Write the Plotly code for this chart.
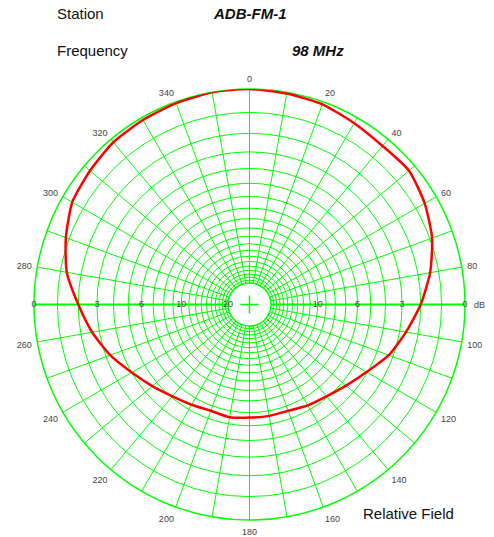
import plotly.graph_objects as go

# ---- data ----
theta_deg = [0, 10, 20, 30, 40, 50, 60, 70, 80, 90, 100, 110, 120, 130, 140, 150, 160, 170,
             180, 190, 200, 210, 220, 230, 240, 250, 260, 270, 280, 290, 300, 310, 320, 330, 340, 350, 360]
atten_db = [0.0, 0.05, 0.1, 0.25, 0.35, 0.3, 0.55, 0.9, 1.4, 2.0, 2.65, 3.25, 4.05, 4.65, 5.1, 5.35, 5.6, 5.6,
            5.6, 5.5, 5.6, 5.4, 5.1, 4.6, 4.0, 3.25, 2.6, 2.0, 1.3, 0.85, 0.45, 0.3, 0.15, 0.1, 0.05, 0.0, 0.0]
grid_db = list(range(0, 21))          # circles every 1 dB
label_db_left = [0, 3, 6, 10, 20]
label_db_right = [0, 3, 6, 10]
angle_ticks = list(range(0, 360, 10))
angle_labels = [str(a) if a % 20 == 0 else "" for a in angle_ticks]

station = "ADB-FM-1"
frequency = "98 MHz"


def field(db):
    return 10 ** (-db / 20.0)


GREEN = "#00ff00"
TXT = "#444444"

r_vals = [field(d) for d in atten_db]
grid_r = [field(d) for d in grid_db]

fig = go.Figure()

# grid subplot (needs a trace to be drawn)
fig.add_trace(go.Scatterpolar(
    r=[None], theta=[None], mode="lines", subplot="polar",
    hoverinfo="skip", showlegend=False))

# subplot carrying the right half of the horizontal axis line
fig.add_trace(go.Scatterpolar(
    r=[None], theta=[None], mode="lines", subplot="polar2",
    hoverinfo="skip", showlegend=False))

# data subplot on top
fig.add_trace(go.Scatterpolar(
    r=r_vals, theta=theta_deg, mode="lines",
    line=dict(color="#ff0000", width=2.5, shape="spline", smoothing=0.6), subplot="polar3",
    hoverinfo="skip", showlegend=False))

fig.add_trace(go.Scatterpolar(
    r=[field(d) for d in label_db_left], theta=[270] * len(label_db_left),
    mode="text", text=[str(d) for d in label_db_left],
    textfont=dict(family="Liberation Sans, Arial", size=9, color=TXT),
    textposition="middle center", subplot="polar3", cliponaxis=False,
    hoverinfo="skip", showlegend=False))

fig.add_trace(go.Scatterpolar(
    r=[field(d) for d in label_db_right], theta=[90] * len(label_db_right),
    mode="text", text=[str(d) for d in label_db_right],
    textfont=dict(family="Liberation Sans, Arial", size=9, color=TXT),
    textposition="middle center", subplot="polar3", cliponaxis=False,
    hoverinfo="skip", showlegend=False))

# centre cross
fig.add_trace(go.Scatterpolar(
    r=[0], theta=[0], mode="markers",
    marker=dict(symbol="cross-thin", size=13, line=dict(color=GREEN, width=1.5)),
    subplot="polar3", hoverinfo="skip", showlegend=False))

dom_x = [34 / 494, 465 / 494]
dom_y = [17 / 537, 448 / 537]

fig.update_layout(
    width=494, height=537,
    margin=dict(l=0, r=0, t=0, b=0),
    paper_bgcolor="white",
    font=dict(family="Liberation Sans, Arial", color=TXT),
    polar=dict(
        domain=dict(x=dom_x, y=dom_y),
        bgcolor="white",
        hole=0.1,
        radialaxis=dict(
            range=[0.0995, 1.0], tickvals=grid_r, showticklabels=False, ticks="",
            showgrid=True, gridcolor=GREEN, gridwidth=1.2,
            showline=True, linecolor=GREEN, linewidth=2, angle=180),
        angularaxis=dict(
            rotation=90, direction="clockwise", tickvals=angle_ticks, ticktext=angle_labels,
            showgrid=True, gridcolor=GREEN, gridwidth=1.2,
            showline=True, linecolor=GREEN, linewidth=1.5,
            ticks="outside", ticklen=3, tickcolor="rgba(0,0,0,0)",
            tickfont=dict(size=9, color=TXT)),
    ),
    polar2=dict(
        domain=dict(x=dom_x, y=dom_y),
        bgcolor="rgba(0,0,0,0)",
        hole=0.1,
        radialaxis=dict(range=[0.0995, 1.0], showgrid=False, showticklabels=False, ticks="",
                        showline=True, linecolor=GREEN, linewidth=2, angle=0),
        angularaxis=dict(showgrid=False, showticklabels=False, ticks="", showline=False),
    ),
    polar3=dict(
        domain=dict(x=dom_x, y=dom_y),
        bgcolor="rgba(0,0,0,0)",
        radialaxis=dict(range=[0, 1], visible=False),
        angularaxis=dict(rotation=90, direction="clockwise", visible=False),
    ),
    annotations=[
        dict(text="Station", x=55 / 494, y=1 - 14 / 537, xref="paper", yref="paper",
             xanchor="left", yanchor="middle", showarrow=False, font=dict(size=15, color="#111")),
        dict(text="<b><i>" + station + "</i></b>", x=250 / 494, y=1 - 14 / 537, xref="paper", yref="paper",
             xanchor="center", yanchor="middle", showarrow=False, font=dict(size=15, color="#111")),
        dict(text="Frequency", x=55 / 494, y=1 - 50 / 537, xref="paper", yref="paper",
             xanchor="left", yanchor="middle", showarrow=False, font=dict(size=15, color="#111")),
        dict(text="<b><i>" + frequency + "</i></b>", x=290 / 494, y=1 - 50 / 537, xref="paper", yref="paper",
             xanchor="left", yanchor="middle", showarrow=False, font=dict(size=15, color="#111")),
        dict(text="dB", x=472 / 494, y=1 - 304.5 / 537, xref="paper", yref="paper",
             xanchor="left", yanchor="middle", showarrow=False, font=dict(size=9, color=TXT)),
        dict(text="Relative Field", x=361 / 494, y=1 - 513 / 537, xref="paper", yref="paper",
             xanchor="left", yanchor="middle", showarrow=False, font=dict(size=15, color="#111")),
    ],
)

fig.write_html("out.html", post_script="document.body.style.margin='0px';",
               config={"displayModeBar": False})
